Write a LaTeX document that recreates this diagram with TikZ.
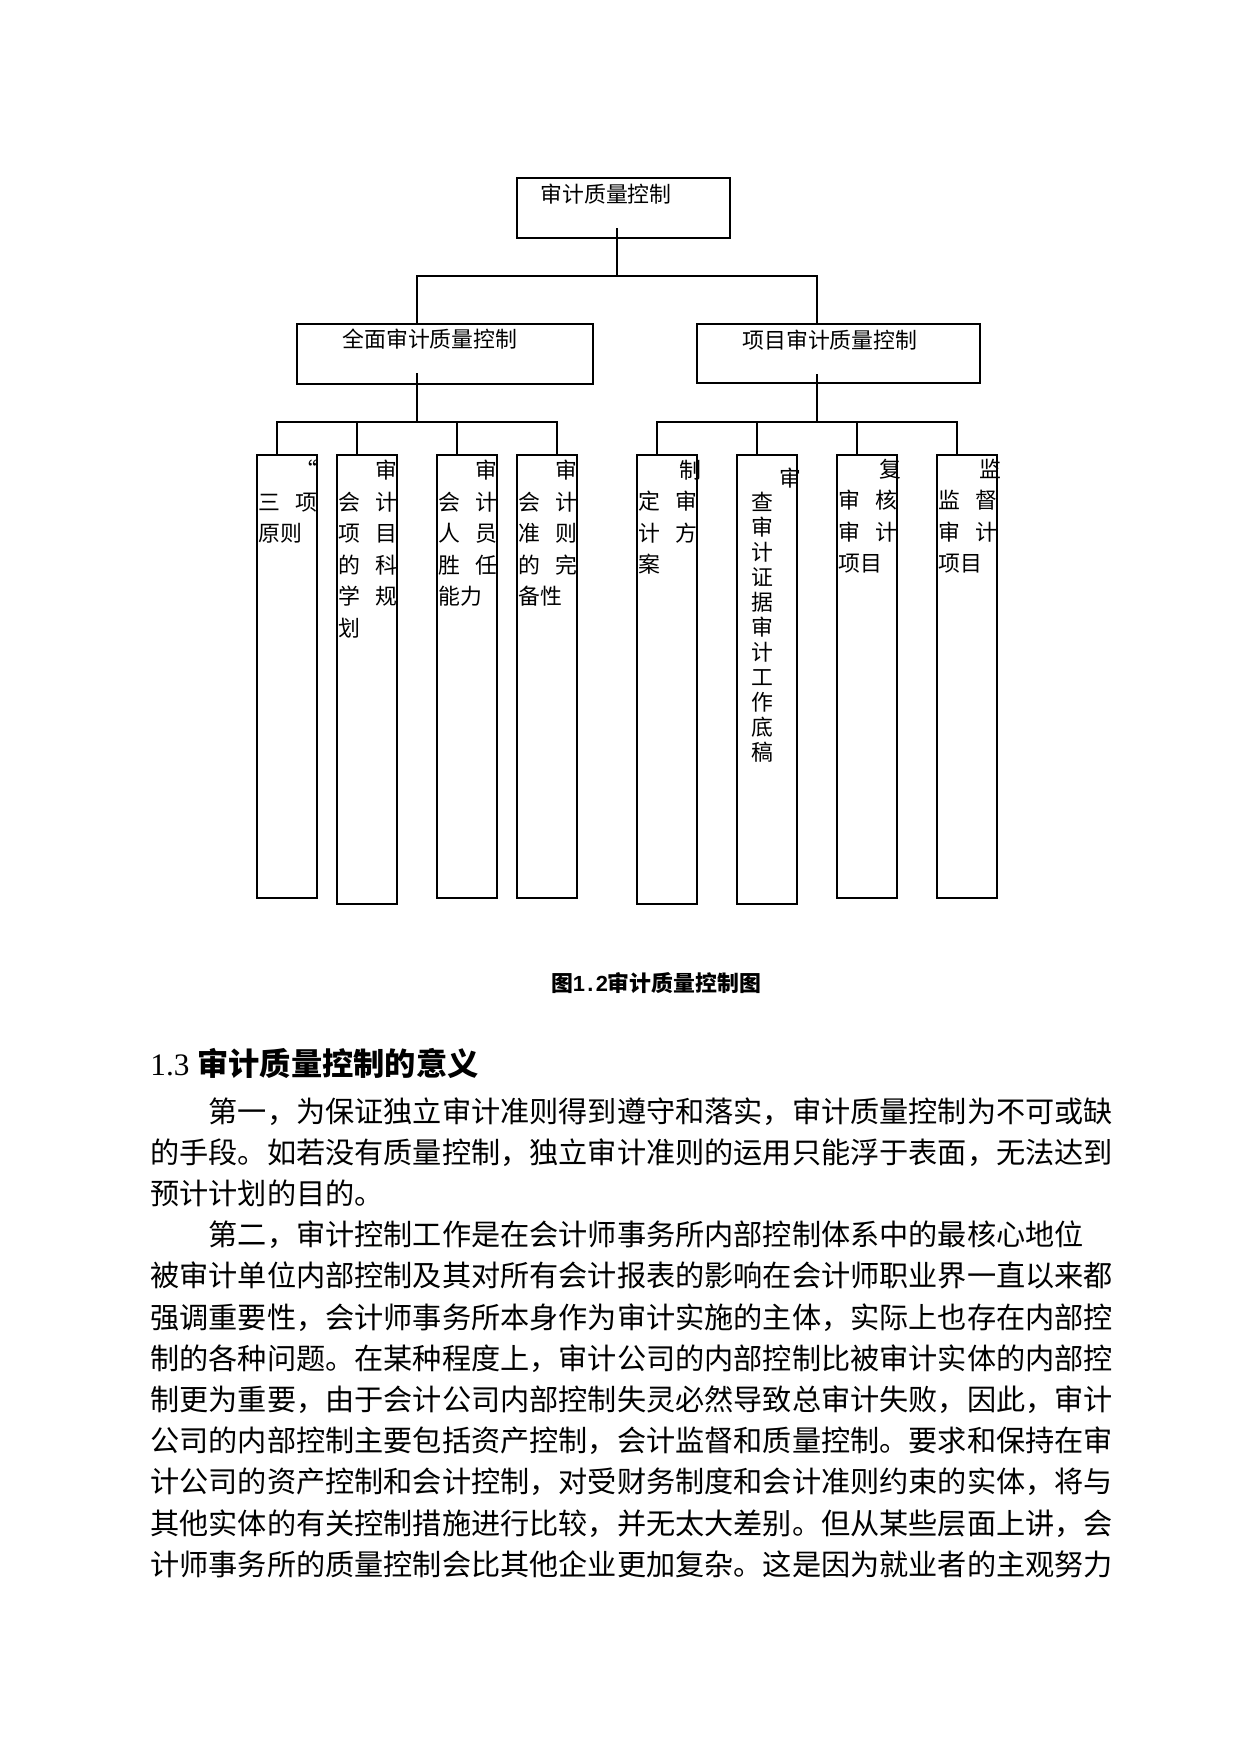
\documentclass[tikz,border=0pt]{standalone}
\usepackage{fontspec}
\setmainfont{Liberation Serif}
\newfontfamily\cjk{Noto Sans CJK SC}
\newfontfamily\sansnum{Liberation Sans}
\begin{document}
\begin{tikzpicture}[x=0.48pt,y=-0.48pt,
	cell/.style 2 args={draw,line width=1pt,inner sep=0pt,minimum width=#1*0.48pt,minimum height=#2*0.48pt},
	link/.style={line width=1pt},
	lbl/.style={anchor=base west,inner sep=0pt,font=\cjk\fontsize{10.5}{12}\selectfont},
	leaftext/.style={anchor=base west,inner sep=0pt,text width=59*0.48pt,align=left,font=\cjk\fontsize{10.5}{15.12}\selectfont}]
		\useasboundingbox (0,0) rectangle (1240,1754);

		\node[cell={213}{60}] (top) at (623.5,208) {};
		\node[cell={296}{60}] (all) at (445,354) {};
		\node[cell={283}{59}] (proj) at (838.5,353.5) {};

		\node[lbl] (t0) at (540,202) {审计质量控制};
		\node[lbl] (t1) at (342,347) {全面审计质量控制};
		\node[lbl] (t2) at (742,348) {项目审计质量控制};

		\node[cell={60}{443}] (l1) at (287,676.5) {};
		\node[cell={60}{449}] (l2) at (367,679.5) {};
		\node[cell={60}{443}] (l3) at (467,676.5) {};
		\node[cell={60}{443}] (l4) at (547,676.5) {};
		\node[cell={60}{449}] (l5) at (667,679.5) {};
		\node[cell={60}{449}] (l6) at (767,679.5) {};
		\node[cell={60}{443}] (l7) at (867,676.5) {};
		\node[cell={60}{443}] (l8) at (967,676.5) {};

		\coordinate (s0) at (617,228);
		\coordinate (b0) at (617,276);
		\coordinate (s1) at (417,373);
		\coordinate (b1) at (417,422);
		\coordinate (s2) at (817,374);
		\coordinate (b2) at (817,422);

		\draw[link] (s0) -- (b0);
		\draw[link] (all.north -| s1) |- (b0) -| (proj.north -| s2);
		\draw[link] (s1) -- (b1);
		\draw[link] (s2) -- (b2);

		\draw[link] (b1) -| ([xshift=-4.8pt]l1.north);
		\draw[link] (b1) -| ([xshift=-4.8pt]l2.north);
		\draw[link] (b1) -| ([xshift=-4.8pt]l3.north);
		\draw[link] (b1) -| ([xshift=4.8pt]l4.north);
		\draw[link] (b2) -| ([xshift=-4.8pt]l5.north);
		\draw[link] (b2) -| ([xshift=-4.8pt]l6.north);
		\draw[link] (b2) -| ([xshift=-4.8pt]l7.north);
		\draw[link] (b2) -| ([xshift=-4.8pt]l8.north);

		\node[leaftext] (x1) at (258,478.5) {\null\hfill “\\ 三\hfill 项\\ 原则};
		\node[leaftext] (x2) at (338,478.5) {\null\hfill 审\\ 会\hfill 计\\ 项\hfill 目\\ 的\hfill 科\\ 学\hfill 规\\ 划};
		\node[leaftext] (x3) at (438,478.5) {\null\hfill 审\\ 会\hfill 计\\ 人\hfill 员\\ 胜\hfill 任\\ 能力};
		\node[leaftext] (x4) at (518,478.5) {\null\hfill 审\\ 会\hfill 计\\ 准\hfill 则\\ 的\hfill 完\\ 备性};
		\node[leaftext] (x5) at (638,478) {\null\hfill 制\kern-2pt\\ 定\hfill 审\\ 计\hfill 方\\ 案};
		\node[lbl,anchor=base east] (x6a) at (802,486) {审};
		\node[leaftext,anchor=base,text width=22*0.48pt,align=center,font=\cjk\fontsize{10.5}{12}\selectfont] (x6) at (762.5,510) {查\\审\\计\\证\\据\\审\\计\\工\\作\\底\\稿};
		\node[leaftext] (x7) at (838,477) {\null\hfill 复\kern-2pt\\ 审\hfill 核\\ 审\hfill 计\\ 项目};
		\node[leaftext] (x8) at (938,477) {\null\hfill 监\kern-2pt\\ 监\hfill 督\\ 审\hfill 计\\ 项目};

		\node[lbl,anchor=base,font=\cjk\bfseries\fontsize{10.5}{12}\selectfont] (cap) at (656,991) {图\makebox[.55em]{\sansnum\bfseries 1}\makebox[.5em]{\sansnum\bfseries .}\makebox[.55em]{\sansnum\bfseries 2}审计质量控制图};

		\node[anchor=base west,inner sep=0pt,font=\fontsize{15}{18}\selectfont] (head) at (150,1075) {1.3 {\cjk\bfseries 审计质量控制的意义}};

		\node[anchor=base west,inner sep=0pt,text width=1000*0.48pt,align=left,font=\cjk\fontsize{14}{19.78}\selectfont] (body) at (150,1122) {\hspace*{2em}第一，为保证独立审计准则得到遵守和落实，审计质量控制为不可或缺\\
		的手段。如若没有质量控制，独立审计准则的运用只能浮于表面，无法达到\\
		预计计划的目的。\\
		\hspace*{2em}第二，审计控制工作是在会计师事务所内部控制体系中的最核心地位\\
		被审计单位内部控制及其对所有会计报表的影响在会计师职业界一直以来都\\
		强调重要性，会计师事务所本身作为审计实施的主体，实际上也存在内部控\\
		制的各种问题。在某种程度上，审计公司的内部控制比被审计实体的内部控\\
		制更为重要，由于会计公司内部控制失灵必然导致总审计失败，因此，审计\\
		公司的内部控制主要包括资产控制，会计监督和质量控制。要求和保持在审\\
		计公司的资产控制和会计控制，对受财务制度和会计准则约束的实体，将与\\
		其他实体的有关控制措施进行比较，并无太大差别。但从某些层面上讲，会\\
		计师事务所的质量控制会比其他企业更加复杂。这是因为就业者的主观努力};
	\end{tikzpicture}
\end{document}
